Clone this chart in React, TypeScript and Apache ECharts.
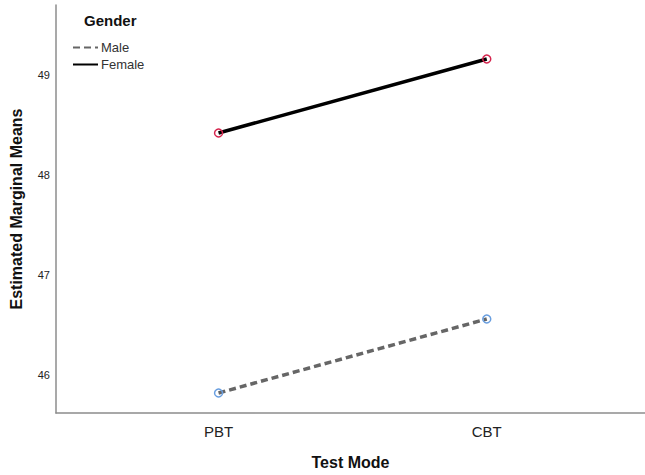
import React, { useEffect, useRef } from "react";
import * as echarts from "echarts";

const categories = ["PBT", "CBT"];
const maleMeans = [45.82, 46.56];
const femaleMeans = [48.42, 49.16];
const yTicks = [46, 47, 48, 49];

export default function App() {
  const ref = useRef<HTMLDivElement>(null);
  useEffect(() => {
    if (!ref.current) return;
    const chart = echarts.init(ref.current, null, { renderer: "svg" });
    const font = "Arial, 'Liberation Sans', sans-serif";
    const toPts = (vals: number[]) => vals.map((v, i) => [i + 1, v]);
    chart.setOption({
      animation: false,
      backgroundColor: "#ffffff",
      title: {
        text: "Gender",
        left: 79,
        top: 8,
        textStyle: { fontFamily: font, fontSize: 15, fontWeight: "bold", color: "#111" },
      },
      legend: {
        orient: "vertical",
        left: 67,
        top: 36,
        itemWidth: 25,
        itemHeight: 10,
        itemGap: 4,
        data: ["Male", "Female"],
        textStyle: { fontFamily: font, fontSize: 13, color: "#333", padding: [0, 0, 0, -2] },
        itemStyle: { opacity: 0 },
      },
      grid: { left: 54, right: 0, top: 5, bottom: 61 },
      xAxis: {
        type: "value",
        min: 0.394,
        max: 2.59,
        name: "Test Mode",
        nameLocation: "middle",
        nameGap: 41,
        nameTextStyle: { fontFamily: font, fontSize: 16, fontWeight: "bold", color: "#111" },
        axisLine: { show: true, lineStyle: { color: "#8c8c8c", width: 1.5 } },
        axisTick: { show: false },
        splitLine: { show: false },
        axisLabel: {
          customValues: [1, 2],
          formatter: (v: number) => categories[Math.round(v) - 1] ?? "",
          fontFamily: font,
          fontSize: 15,
          color: "#222",
          margin: 11,
        },
      },
      yAxis: {
        type: "value",
        min: 45.62,
        max: 49.7,
        name: "Estimated Marginal Means",
        nameLocation: "middle",
        nameGap: 32,
        nameTextStyle: { fontFamily: font, fontSize: 16, fontWeight: "bold", color: "#111" },
        axisLine: { show: true, lineStyle: { color: "#8c8c8c", width: 1.5 } },
        axisTick: { show: false },
        splitLine: { show: false },
        axisLabel: {
          customValues: yTicks,
          fontFamily: font,
          fontSize: 11,
          color: "#222",
          margin: 6,
        },
      },
      series: [
        {
          name: "Male",
          type: "line",
          data: toPts(maleMeans),
          symbol: "circle",
          symbolSize: 8,
          itemStyle: { color: "rgba(0,0,0,0)", borderColor: "#6a9fe0", borderWidth: 1.5 },
          lineStyle: { color: "#666666", width: 3.5, type: [7, 4] },
          z: 2,
        },
        {
          name: "Female",
          type: "line",
          data: toPts(femaleMeans),
          symbol: "circle",
          symbolSize: 8,
          itemStyle: { color: "rgba(0,0,0,0)", borderColor: "#d6264f", borderWidth: 1.5 },
          lineStyle: { color: "#000000", width: 3.5 },
          z: 2,
        },
      ],
    });
    return () => chart.dispose();
  }, []);
  return (
    <div
      ref={ref}
      style={{ position: "fixed", left: 0, top: 0, width: 645, height: 475 }}
    />
  );
}
